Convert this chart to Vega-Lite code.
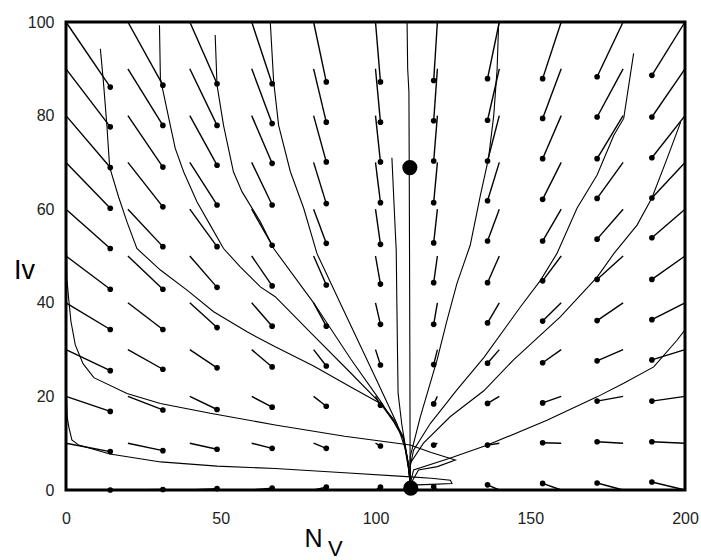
{
  "$schema": "https://vega.github.io/schema/vega-lite/v6.json",
  "width": 619,
  "height": 468,
  "autosize": "none",
  "padding": {"left": 66, "top": 22, "right": 16, "bottom": 70},
  "background": "white",
  "config": {
    "view": {"stroke": "black", "strokeWidth": 3},
    "font": "Liberation Sans",
    "axis": {"labelFont": "Liberation Sans", "labelFontSize": 16, "labelColor": "#222", "domain": false, "ticks": false, "grid": false, "labelFlush": false, "labelOverlap": false, "titleFont": "Liberation Sans", "titleColor": "black", "titleFontWeight": "normal"},
    "axisX": {"tickCount": 4, "labelPadding": 20, "titleFontSize": 25, "titleX": 247, "titleY": 48, "titleBaseline": "middle", "titleAlign": "center"},
    "axisY": {"tickCount": 5, "labelPadding": 12, "titleAngle": 0, "titleFontSize": 27, "titleX": -42, "titleY": 248, "titleAlign": "center", "titleBaseline": "middle"}
  },
  "datasets": {
    "arrows": [
      {"x":0,"y":100,"x2":14.3,"y2":86.1},{"x":20,"y":100,"x2":31.3,"y2":86.5},{"x":40,"y":100,"x2":48.8,"y2":86.8},{"x":60,"y":100,"x2":66.6,"y2":86.8},{"x":80,"y":100,"x2":84.1,"y2":87.2},{"x":100,"y":100,"x2":101.6,"y2":87.2},{"x":120,"y":100,"x2":118.8,"y2":87.5},{"x":140,"y":100,"x2":136.2,"y2":87.9},{"x":160,"y":100,"x2":154.0,"y2":87.9},{"x":180,"y":100,"x2":171.6,"y2":88.3},{"x":200,"y":100,"x2":189.3,"y2":88.6},
      {"x":0,"y":90,"x2":14.3,"y2":77.6},{"x":20,"y":90,"x2":31.3,"y2":77.9},{"x":40,"y":90,"x2":48.8,"y2":77.9},{"x":60,"y":90,"x2":66.6,"y2":78.3},{"x":80,"y":90,"x2":84.1,"y2":78.6},{"x":100,"y":90,"x2":101.6,"y2":78.6},{"x":120,"y":90,"x2":118.8,"y2":78.9},{"x":140,"y":90,"x2":136.2,"y2":79.0},{"x":160,"y":90,"x2":154.0,"y2":79.4},{"x":180,"y":90,"x2":171.6,"y2":79.7},{"x":200,"y":90,"x2":189.3,"y2":79.7},
      {"x":0,"y":80,"x2":14.3,"y2":68.9},{"x":20,"y":80,"x2":31.3,"y2":69.0},{"x":40,"y":80,"x2":48.8,"y2":69.4},{"x":60,"y":80,"x2":66.6,"y2":69.8},{"x":80,"y":80,"x2":84.1,"y2":70.1},{"x":100,"y":80,"x2":101.6,"y2":70.1},{"x":120,"y":80,"x2":118.8,"y2":70.3},{"x":140,"y":80,"x2":136.2,"y2":70.3},{"x":160,"y":80,"x2":154.0,"y2":70.8},{"x":180,"y":80,"x2":171.6,"y2":70.8},{"x":200,"y":80,"x2":189.3,"y2":71.0},
      {"x":0,"y":70,"x2":14.3,"y2":60.2},{"x":20,"y":70,"x2":31.3,"y2":60.5},{"x":40,"y":70,"x2":48.8,"y2":60.9},{"x":60,"y":70,"x2":66.6,"y2":60.9},{"x":80,"y":70,"x2":84.1,"y2":61.2},{"x":100,"y":70,"x2":101.6,"y2":61.4},{"x":120,"y":70,"x2":118.8,"y2":61.4},{"x":140,"y":70,"x2":136.2,"y2":61.8},{"x":160,"y":70,"x2":154.0,"y2":62.1},{"x":180,"y":70,"x2":171.6,"y2":62.3},{"x":200,"y":70,"x2":189.3,"y2":62.4},
      {"x":0,"y":60,"x2":14.3,"y2":51.6},{"x":20,"y":60,"x2":31.3,"y2":52.0},{"x":40,"y":60,"x2":48.8,"y2":52.0},{"x":60,"y":60,"x2":66.6,"y2":52.3},{"x":80,"y":60,"x2":84.1,"y2":52.7},{"x":100,"y":60,"x2":101.6,"y2":52.5},{"x":120,"y":60,"x2":118.8,"y2":52.8},{"x":140,"y":60,"x2":136.2,"y2":53.2},{"x":160,"y":60,"x2":154.0,"y2":53.2},{"x":180,"y":60,"x2":171.6,"y2":53.6},{"x":200,"y":60,"x2":189.3,"y2":53.9},
      {"x":0,"y":50,"x2":14.3,"y2":42.9},{"x":20,"y":50,"x2":31.3,"y2":42.9},{"x":40,"y":50,"x2":48.8,"y2":43.3},{"x":60,"y":50,"x2":66.6,"y2":43.6},{"x":80,"y":50,"x2":84.1,"y2":43.8},{"x":100,"y":50,"x2":101.6,"y2":44.0},{"x":120,"y":50,"x2":118.8,"y2":44.3},{"x":140,"y":50,"x2":136.2,"y2":44.3},{"x":160,"y":50,"x2":154.0,"y2":44.7},{"x":180,"y":50,"x2":171.6,"y2":45.0},{"x":200,"y":50,"x2":189.3,"y2":45.0},
      {"x":0,"y":40,"x2":14.3,"y2":34.3},{"x":20,"y":40,"x2":31.3,"y2":34.3},{"x":40,"y":40,"x2":48.8,"y2":34.7},{"x":60,"y":40,"x2":66.6,"y2":35.0},{"x":80,"y":40,"x2":84.1,"y2":35.0},{"x":100,"y":40,"x2":101.6,"y2":35.4},{"x":120,"y":40,"x2":118.8,"y2":35.4},{"x":140,"y":40,"x2":136.2,"y2":35.7},{"x":160,"y":40,"x2":154.0,"y2":36.1},{"x":180,"y":40,"x2":171.6,"y2":36.2},{"x":200,"y":40,"x2":189.3,"y2":36.4},
      {"x":0,"y":30,"x2":14.3,"y2":25.5},{"x":20,"y":30,"x2":31.3,"y2":25.8},{"x":40,"y":30,"x2":48.8,"y2":26.1},{"x":60,"y":30,"x2":66.6,"y2":26.3},{"x":80,"y":30,"x2":84.1,"y2":26.5},{"x":100,"y":30,"x2":101.6,"y2":26.7},{"x":120,"y":30,"x2":118.8,"y2":26.8},{"x":140,"y":30,"x2":136.2,"y2":27.1},{"x":160,"y":30,"x2":154.0,"y2":27.2},{"x":180,"y":30,"x2":171.6,"y2":27.6},{"x":200,"y":30,"x2":189.3,"y2":27.8},
      {"x":0,"y":20,"x2":14.3,"y2":16.8},{"x":20,"y":20,"x2":31.3,"y2":17.1},{"x":40,"y":20,"x2":48.8,"y2":17.2},{"x":60,"y":20,"x2":66.6,"y2":17.7},{"x":80,"y":20,"x2":84.1,"y2":17.9},{"x":100,"y":20,"x2":101.6,"y2":18.1},{"x":120,"y":20,"x2":118.8,"y2":18.4},{"x":140,"y":20,"x2":136.2,"y2":18.5},{"x":160,"y":20,"x2":154.0,"y2":18.6},{"x":180,"y":20,"x2":171.6,"y2":19.0},{"x":200,"y":20,"x2":189.3,"y2":19.0},
      {"x":0,"y":10,"x2":14.3,"y2":8.2},{"x":20,"y":10,"x2":31.3,"y2":8.4},{"x":40,"y":10,"x2":48.8,"y2":8.7},{"x":60,"y":10,"x2":66.6,"y2":8.9},{"x":80,"y":10,"x2":84.1,"y2":8.9},{"x":100,"y":10,"x2":101.6,"y2":9.4},{"x":120,"y":10,"x2":118.8,"y2":9.6},{"x":140,"y":10,"x2":136.2,"y2":9.6},{"x":160,"y":10,"x2":154.0,"y2":10.1},{"x":180,"y":10,"x2":171.6,"y2":10.3},{"x":200,"y":10,"x2":189.3,"y2":10.3},
      {"x":0,"y":0,"x2":14.3,"y2":0.0},{"x":20,"y":0,"x2":31.3,"y2":0.1},{"x":40,"y":0,"x2":48.8,"y2":0.3},{"x":60,"y":0,"x2":66.6,"y2":0.4},{"x":80,"y":0,"x2":84.1,"y2":0.6},{"x":100,"y":0,"x2":101.6,"y2":0.6},{"x":120,"y":0,"x2":118.8,"y2":0.7},{"x":140,"y":0,"x2":136.2,"y2":1.1},{"x":160,"y":0,"x2":154.0,"y2":1.4},{"x":180,"y":0,"x2":171.6,"y2":1.5},{"x":200,"y":0,"x2":189.3,"y2":1.7}
    ],
    "traj": [
      {"t":"t1","k":0,"x":11.1,"y":94.3},{"t":"t1","k":1,"x":12.1,"y":87.1},{"t":"t1","k":2,"x":13.2,"y":78},{"t":"t1","k":3,"x":14.1,"y":69.0},{"t":"t1","k":4,"x":17.0,"y":62.6},{"t":"t1","k":5,"x":19.7,"y":57.3},{"t":"t1","k":6,"x":22.9,"y":51.6},{"t":"t1","k":7,"x":30.5,"y":47.0},{"t":"t1","k":8,"x":39.1,"y":42.7},{"t":"t1","k":9,"x":47.7,"y":38.1},{"t":"t1","k":10,"x":58.5,"y":33.8},{"t":"t1","k":11,"x":67.6,"y":30.6},{"t":"t1","k":12,"x":80,"y":26.5},{"t":"t1","k":13,"x":92,"y":22},{"t":"t1","k":14,"x":101.6,"y":18.5},{"t":"t1","k":15,"x":106,"y":15},{"t":"t1","k":16,"x":109,"y":11.4},{"t":"t1","k":17,"x":110.5,"y":6},{"t":"t1","k":18,"x":111.2,"y":1.5},
      {"t":"t2","k":0,"x":30.2,"y":99.3},{"t":"t2","k":1,"x":30.5,"y":87.9},{"t":"t2","k":2,"x":33.7,"y":77.9},{"t":"t2","k":3,"x":35.3,"y":73},{"t":"t2","k":4,"x":38,"y":68},{"t":"t2","k":5,"x":42.3,"y":61.6},{"t":"t2","k":6,"x":46.6,"y":56.6},{"t":"t2","k":7,"x":50.9,"y":51.6},{"t":"t2","k":8,"x":56.3,"y":47.7},{"t":"t2","k":9,"x":62.8,"y":43.4},{"t":"t2","k":10,"x":67.6,"y":41.3},{"t":"t2","k":11,"x":80,"y":33},{"t":"t2","k":12,"x":92,"y":25},{"t":"t2","k":13,"x":101.6,"y":18.5},{"t":"t2","k":14,"x":106,"y":14.5},{"t":"t2","k":15,"x":109,"y":11},{"t":"t2","k":16,"x":110.5,"y":6},{"t":"t2","k":17,"x":111.2,"y":1.5},
      {"t":"t3","k":0,"x":48.2,"y":97.2},{"t":"t3","k":1,"x":48.8,"y":86.5},{"t":"t3","k":2,"x":50.9,"y":77.9},{"t":"t3","k":3,"x":54.1,"y":68},{"t":"t3","k":4,"x":56.9,"y":63.7},{"t":"t3","k":5,"x":62.8,"y":57.3},{"t":"t3","k":6,"x":67.1,"y":51.6},{"t":"t3","k":7,"x":80,"y":40},{"t":"t3","k":8,"x":92,"y":28},{"t":"t3","k":9,"x":101.6,"y":19},{"t":"t3","k":10,"x":106,"y":14.5},{"t":"t3","k":11,"x":109,"y":11},{"t":"t3","k":12,"x":110.5,"y":6},{"t":"t3","k":13,"x":111.2,"y":1.5},
      {"t":"t4","k":0,"x":66,"y":100},{"t":"t4","k":1,"x":67.1,"y":87.2},{"t":"t4","k":2,"x":68.7,"y":77.9},{"t":"t4","k":3,"x":72.5,"y":68},{"t":"t4","k":4,"x":76.8,"y":60.2},{"t":"t4","k":5,"x":81.1,"y":50.5},{"t":"t4","k":6,"x":90,"y":38},{"t":"t4","k":7,"x":100,"y":24},{"t":"t4","k":8,"x":106.9,"y":14.2},{"t":"t4","k":9,"x":109.5,"y":9},{"t":"t4","k":10,"x":110.8,"y":4},{"t":"t4","k":11,"x":111.2,"y":1.5},
      {"t":"b","k":0,"x":105.3,"y":71},{"t":"b","k":1,"x":106.4,"y":55.2},{"t":"b","k":2,"x":106.7,"y":51.2},{"t":"b","k":3,"x":106.9,"y":40},{"t":"b","k":4,"x":107.1,"y":30},{"t":"b","k":5,"x":107.3,"y":20.7},{"t":"b","k":6,"x":108.5,"y":14},{"t":"b","k":7,"x":110,"y":8},{"t":"b","k":8,"x":111,"y":3},{"t":"b","k":9,"x":111.2,"y":1.5},
      {"t":"v","k":0,"x":110.2,"y":100},{"t":"v","k":1,"x":110.4,"y":90},{"t":"v","k":2,"x":110.8,"y":85},{"t":"v","k":3,"x":110.9,"y":69},{"t":"v","k":4,"x":111.1,"y":30},{"t":"v","k":5,"x":111.2,"y":1},
      {"t":"t5","k":0,"x":139.8,"y":100},{"t":"t5","k":1,"x":139.3,"y":90},{"t":"t5","k":2,"x":138.2,"y":80},{"t":"t5","k":3,"x":136.5,"y":70.8},{"t":"t5","k":4,"x":133.9,"y":63},{"t":"t5","k":5,"x":130.6,"y":52.3},{"t":"t5","k":6,"x":126.3,"y":44.1},{"t":"t5","k":7,"x":123,"y":36},{"t":"t5","k":8,"x":119.9,"y":27.8},{"t":"t5","k":9,"x":114.5,"y":15.7},{"t":"t5","k":10,"x":111.2,"y":7.1},{"t":"t5","k":11,"x":111.2,"y":1.5},
      {"t":"t6","k":0,"x":183.4,"y":93.3},{"t":"t6","k":1,"x":180.2,"y":79.4},{"t":"t6","k":2,"x":177,"y":75.8},{"t":"t6","k":3,"x":171.6,"y":67.3},{"t":"t6","k":4,"x":165.1,"y":60.2},{"t":"t6","k":5,"x":158.6,"y":50.5},{"t":"t6","k":6,"x":153.3,"y":44.8},{"t":"t6","k":7,"x":146.8,"y":39.1},{"t":"t6","k":8,"x":135,"y":28.3},{"t":"t6","k":9,"x":126.3,"y":21.4},{"t":"t6","k":10,"x":117.7,"y":14.2},{"t":"t6","k":11,"x":112.3,"y":8.5},{"t":"t6","k":12,"x":111.2,"y":5},{"t":"t6","k":13,"x":111.2,"y":1.5},
      {"t":"t7","k":0,"x":198.6,"y":78.6},{"t":"t7","k":1,"x":194.2,"y":70.8},{"t":"t7","k":2,"x":189.3,"y":62.4},{"t":"t7","k":3,"x":184.5,"y":56.6},{"t":"t7","k":4,"x":177,"y":50.5},{"t":"t7","k":5,"x":171.6,"y":45.5},{"t":"t7","k":6,"x":159.7,"y":37},{"t":"t7","k":7,"x":144.6,"y":27.8},{"t":"t7","k":8,"x":135,"y":21.2},{"t":"t7","k":9,"x":124.2,"y":15.7},{"t":"t7","k":10,"x":115.5,"y":10},{"t":"t7","k":11,"x":111.2,"y":5.7},{"t":"t7","k":12,"x":111.2,"y":1.5},
      {"t":"t8","k":0,"x":200,"y":34.2},{"t":"t8","k":1,"x":197.4,"y":32},{"t":"t8","k":2,"x":189.9,"y":26.3},{"t":"t8","k":3,"x":180.2,"y":22.8},{"t":"t8","k":4,"x":171.6,"y":19.9},{"t":"t8","k":5,"x":155.4,"y":14.9},{"t":"t8","k":6,"x":136.2,"y":9.6},{"t":"t8","k":7,"x":124,"y":6.8},{"t":"t8","k":8,"x":112.3,"y":4.3},{"t":"t8","k":9,"x":111.3,"y":1.5},
      {"t":"ta","k":0,"x":0.2,"y":51},{"t":"ta","k":1,"x":0.3,"y":45},{"t":"ta","k":2,"x":0.8,"y":41.3},{"t":"ta","k":3,"x":1.6,"y":36},{"t":"ta","k":4,"x":3,"y":31},{"t":"ta","k":5,"x":5.5,"y":27},{"t":"ta","k":6,"x":9,"y":24},{"t":"ta","k":7,"x":19.7,"y":20.6},{"t":"ta","k":8,"x":30.5,"y":18.5},{"t":"ta","k":9,"x":46.6,"y":16.4},{"t":"ta","k":10,"x":67.6,"y":13.9},{"t":"ta","k":11,"x":90,"y":11.5},{"t":"ta","k":12,"x":111.2,"y":9.6},{"t":"ta","k":13,"x":118,"y":8},{"t":"ta","k":14,"x":125.8,"y":6.4},{"t":"ta","k":15,"x":120,"y":5},{"t":"ta","k":16,"x":113.9,"y":4.3},{"t":"ta","k":17,"x":111.5,"y":1.5},
      {"t":"tb","k":0,"x":0.2,"y":19.5},{"t":"tb","k":1,"x":0.4,"y":15.5},{"t":"tb","k":2,"x":0.9,"y":13.5},{"t":"tb","k":3,"x":1.9,"y":10.7},{"t":"tb","k":4,"x":4.1,"y":9.6},{"t":"tb","k":5,"x":10,"y":8.5},{"t":"tb","k":6,"x":14.2,"y":7.7},{"t":"tb","k":7,"x":30.6,"y":6.0},{"t":"tb","k":8,"x":48.8,"y":5.1},{"t":"tb","k":9,"x":67.6,"y":4.6},{"t":"tb","k":10,"x":90,"y":3.7},{"t":"tb","k":11,"x":111.4,"y":2.8},{"t":"tb","k":12,"x":118,"y":2.5},{"t":"tb","k":13,"x":124.2,"y":2.1},{"t":"tb","k":14,"x":124.7,"y":1.4},{"t":"tb","k":15,"x":118,"y":1.2},{"t":"tb","k":16,"x":113.4,"y":1.1},{"t":"tb","k":17,"x":111.4,"y":0.6}
    ],
    "eq": [{"x":111.1,"y":68.9},{"x":111.4,"y":0.4}],
    "sub": [{"x":87.0,"y":-12.6,"s":"V"}]
  },
  "layer": [
    {
      "data": {"name": "arrows"},
      "mark": {"type": "rule", "color": "black", "strokeWidth": 1.4},
      "encoding": {
        "x": {"field": "x", "type": "quantitative", "scale": {"domain": [0, 200], "nice": false, "zero": false}, "title": "N"},
        "y": {"field": "y", "type": "quantitative", "scale": {"domain": [0, 100], "nice": false, "zero": false}, "title": "Iv"},
        "x2": {"field": "x2"},
        "y2": {"field": "y2"}
      }
    },
    {
      "data": {"name": "arrows"},
      "mark": {"type": "point", "filled": true, "color": "black", "opacity": 1, "size": 32},
      "encoding": {
        "x": {"field": "x2", "type": "quantitative", "title": "N"},
        "y": {"field": "y2", "type": "quantitative", "title": "Iv"}
      }
    },
    {
      "data": {"name": "traj"},
      "mark": {"type": "line", "color": "black", "strokeWidth": 1.1, "clip": true},
      "encoding": {
        "x": {"field": "x", "type": "quantitative", "title": "N"},
        "y": {"field": "y", "type": "quantitative", "title": "Iv"},
        "detail": {"field": "t"},
        "order": {"field": "k", "type": "quantitative"}
      }
    },
    {
      "data": {"name": "eq"},
      "mark": {"type": "point", "filled": true, "color": "black", "opacity": 1, "size": 230},
      "encoding": {
        "x": {"field": "x", "type": "quantitative", "title": "N"},
        "y": {"field": "y", "type": "quantitative", "title": "Iv"}
      }
    },
    {
      "data": {"name": "sub"},
      "mark": {"type": "text", "font": "Liberation Sans", "fontSize": 22, "color": "black", "align": "center", "baseline": "middle"},
      "encoding": {
        "x": {"field": "x", "type": "quantitative", "title": "N"},
        "y": {"field": "y", "type": "quantitative", "title": "Iv"},
        "text": {"field": "s"}
      }
    }
  ]
}
